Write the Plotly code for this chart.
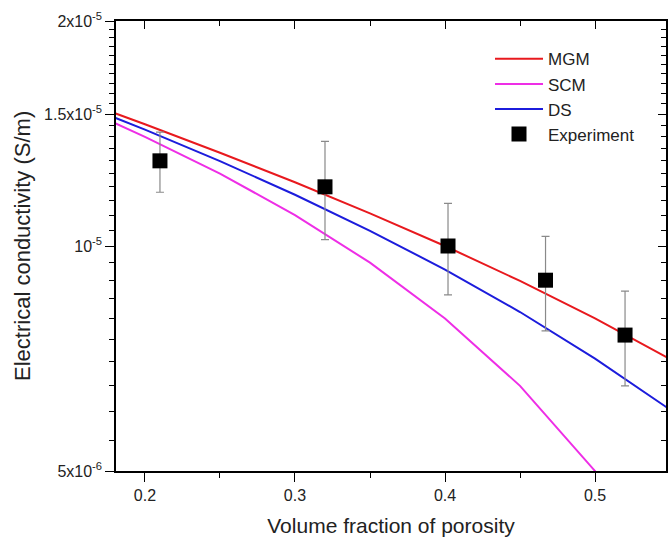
import plotly.graph_objects as go

# porosity grid used for the model curves
phi = [0.18, 0.2, 0.25, 0.3, 0.35, 0.4, 0.45, 0.5, 0.55]
mgm = [1.505e-5, 1.455e-5, 1.333e-5, 1.217e-5, 1.106e-5, 1.0e-5, 8.98e-6, 8.0e-6, 7.06e-6]
scm = [1.46e-5, 1.4e-5, 1.25e-5, 1.1e-5, 9.5e-6, 8.0e-6, 6.5e-6, 5.0e-6, 3.5e-6]
ds = [1.485e-5, 1.431e-5, 1.299e-5, 1.171e-5, 1.048e-5, 9.3e-6, 8.16e-6, 7.07e-6, 6.04e-6]

# measurements
exp_phi = [0.21, 0.32, 0.402, 0.467, 0.52]
exp_sigma = [1.3e-5, 1.2e-5, 1.0e-5, 9.0e-6, 7.6e-6]
exp_err = [1.2e-6, 1.8e-6, 1.4e-6, 1.3e-6, 1.1e-6]

x_ticks = [0.2, 0.3, 0.4, 0.5]
x_minor = [0.25, 0.35, 0.45]
y_ticks = [5e-6, 1e-5, 1.5e-5, 2e-5]
y_ticktext = ["5x10<sup>-6</sup>", "10<sup>-5</sup>", "1.5x10<sup>-5</sup>", "2x10<sup>-5</sup>"]
y_minor = [round(k * 5e-7, 12) for k in range(11, 40) if k not in (20, 30)]

x_range = [0.1807, 0.5473]
y_range = [-5.30103, -4.69897]

font = "Arial, Liberation Sans, sans-serif"

fig = go.Figure()
fig.add_trace(go.Scatter(x=phi, y=mgm, mode="lines", name="MGM",
                         line=dict(color="#e8191e", width=2)))
fig.add_trace(go.Scatter(x=phi, y=scm, mode="lines", name="SCM",
                         line=dict(color="#ee2ee6", width=2)))
fig.add_trace(go.Scatter(x=phi, y=ds, mode="lines", name="DS",
                         line=dict(color="#1c1cdc", width=2)))
fig.add_trace(go.Scatter(
    x=exp_phi, y=exp_sigma, mode="markers", name="Experiment",
    marker=dict(symbol="square", size=15, color="black"),
    error_y=dict(type="data", array=exp_err, color="#8a8a8a", thickness=1.2, width=4),
))
# dummy trace so the top/right mirror axes get drawn
fig.add_trace(go.Scatter(x=[0.3], y=[1e-5], xaxis="x2", yaxis="y2", mode="markers",
                         marker=dict(opacity=0), showlegend=False, hoverinfo="skip"))

axis_common = dict(showline=True, linecolor="black", linewidth=1.5, showgrid=False,
                   zeroline=False, tickcolor="black", tickwidth=1.3, automargin=False)

fig.update_layout(
    width=669, height=537,
    margin=dict(l=116, r=3, t=21, b=66),
    paper_bgcolor="white", plot_bgcolor="white",
    font=dict(family=font, color="#222222"),
    xaxis=dict(
        **axis_common, range=x_range, tickmode="array", tickvals=x_ticks,
        ticks="outside", ticklen=9, tickfont=dict(size=16),
        minor=dict(tickmode="array", tickvals=x_minor, ticks="outside", ticklen=5,
                   tickcolor="black", tickwidth=1.3),
        title=dict(text="Volume fraction of porosity", font=dict(size=21), standoff=16),
    ),
    yaxis=dict(
        **axis_common, type="log", range=y_range, tickmode="array",
        tickvals=y_ticks, ticktext=y_ticktext, ticks="outside", ticklen=9,
        tickfont=dict(size=16),
        minor=dict(tickmode="array", tickvals=y_minor, ticks="outside", ticklen=5,
                   tickcolor="black", tickwidth=1.3),
    ),
    xaxis2=dict(
        **axis_common, overlaying="x", side="top", matches="x", range=x_range,
        tickmode="array", tickvals=x_ticks, ticks="inside", ticklen=8,
        showticklabels=False,
        minor=dict(tickmode="array", tickvals=x_minor, ticks="inside", ticklen=5,
                   tickcolor="black", tickwidth=1.3),
    ),
    yaxis2=dict(
        **axis_common, overlaying="y", side="right", matches="y", type="log",
        range=y_range, tickmode="array", tickvals=y_ticks, ticks="inside",
        ticklen=8, showticklabels=False,
        minor=dict(tickmode="array", tickvals=y_minor, ticks="inside", ticklen=5,
                   tickcolor="black", tickwidth=1.3),
    ),
    legend=dict(x=0.68, y=0.955, xanchor="left", yanchor="top",
                bgcolor="rgba(0,0,0,0)", font=dict(size=17, color="#222222"),
                itemwidth=48, tracegroupgap=0),
    showlegend=True,
)

# y title pinned at a fixed distance from the left edge
fig.add_annotation(text="Electrical conductivity (S/m)", xref="paper", yref="paper",
                   x=-0.171, y=0.5, xanchor="center", yanchor="middle",
                   textangle=-90, showarrow=False, font=dict(size=22, color="#222222"))

# the page body has a default 8px margin; drop it so the figure fills the window
fig.write_html("out.html", config={"displayModeBar": False},
               post_script="document.body.style.margin='0px';")
